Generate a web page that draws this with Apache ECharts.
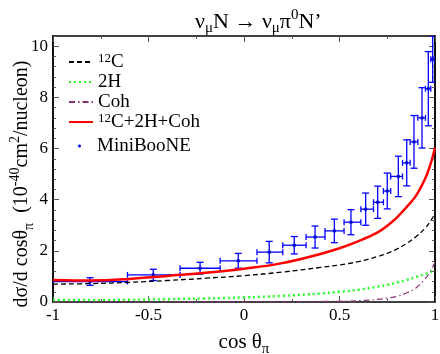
<!DOCTYPE html>
<html><head><meta charset="utf-8">
<script src="https://cdn.jsdelivr.net/npm/echarts@6/dist/echarts.min.js"></script>
<style>html,body{margin:0;padding:0;background:#fff}#c{width:440px;height:354px}</style>
</head><body><div id="c"></div>
<script>
// ---- data ----
const curveX = [-1, -0.8, -0.6, -0.4, -0.2, 0, 0.2, 0.4, 0.5, 0.6, 0.7, 0.75, 0.8, 0.85, 0.9, 0.95, 0.975, 1.0];
const c12   = [0.70, 0.72, 0.77, 0.84, 0.93, 1.03, 1.17, 1.35, 1.45, 1.58, 1.78, 1.90, 2.07, 2.28, 2.55, 2.90, 3.15, 3.45];
const h2    = [0.08, 0.08, 0.09, 0.11, 0.14, 0.18, 0.24, 0.33, 0.40, 0.48, 0.60, 0.67, 0.76, 0.86, 0.98, 1.10, 1.17, 1.25];
const coh   = [0.00, 0.00, 0.00, 0.00, 0.01, 0.01, 0.01, 0.02, 0.03, 0.05, 0.10, 0.15, 0.22, 0.35, 0.55, 0.92, 1.18, 1.55];
const total = [0.86, 0.84, 0.90, 1.02, 1.14, 1.30, 1.52, 1.88, 2.10, 2.38, 2.72, 2.98, 3.30, 3.70, 4.15, 4.85, 5.35, 6.03];

const mbX   = [-0.806, -0.475, -0.23, -0.03, 0.132, 0.263, 0.372, 0.473, 0.56, 0.637, 0.70, 0.75, 0.808, 0.852, 0.89, 0.932, 0.965, 0.988];
const mbLo  = [-1.0, -0.61, -0.335, -0.125, 0.068, 0.203, 0.325, 0.424, 0.524, 0.612, 0.678, 0.73, 0.768, 0.83, 0.87, 0.91, 0.95, 0.978];
const mbHi  = [-0.61, -0.335, -0.125, 0.068, 0.203, 0.325, 0.424, 0.524, 0.612, 0.678, 0.73, 0.768, 0.83, 0.87, 0.91, 0.95, 0.978, 1.0];
const mbY   = [0.80, 1.06, 1.32, 1.61, 1.95, 2.22, 2.54, 2.78, 3.12, 3.63, 3.90, 4.34, 4.91, 5.44, 6.26, 7.20, 8.34, 9.49];
const mbErr = [0.15, 0.22, 0.23, 0.29, 0.42, 0.34, 0.43, 0.46, 0.49, 0.63, 0.63, 0.70, 0.79, 0.90, 1.03, 1.18, 1.45, 0.90];

const xMin = -1, xMax = 1, xStep = 0.5;
const yMin = 0, yMax = 10.4, yStep = 2, yMinorStep = 0.4;

// ---- chart ----
const SERIF = "'Liberation Serif','Times New Roman',serif";
const zip = (xs, ys) => xs.map((x, i) => [x, ys[i]]);
const mbData = mbX.map((x, i) => [x, mbY[i], mbLo[i], mbHi[i], mbErr[i]]);

const frame = {show: true, onZero: false, lineStyle: {color: '#000', width: 1.5}};
const tickStyle = {color: '#555', width: 1};
const subSup = (fs) => ({
  sub: {fontFamily: SERIF, fontSize: fs, verticalAlign: 'bottom', lineHeight: fs},
  sup: {fontFamily: SERIF, fontSize: fs, verticalAlign: 'top', lineHeight: fs}
});

function xAx(pos, labels) {
  return {type: 'value', position: pos, min: xMin, max: xMax, interval: xStep,
    axisLine: frame, splitLine: {show: false},
    axisTick: {show: true, inside: true, length: 6, lineStyle: tickStyle},
    minorTick: {show: true, splitNumber: 2, length: 3, lineStyle: tickStyle},
    axisLabel: {show: labels, fontFamily: SERIF, fontSize: 17, color: '#000', margin: 5},
    name: labels ? 'cos θ{sub|π}' : '', nameLocation: 'middle', nameGap: 17,
    nameTextStyle: {fontFamily: SERIF, fontSize: 21, color: '#000', lineHeight: 28, rich: subSup(15)}
  };
}
function yAx(pos, major, labels) {
  return {type: 'value', position: pos, min: yMin, max: yMax, interval: major ? yStep : yMinorStep,
    axisLine: frame, splitLine: {show: false},
    axisTick: {show: true, inside: true, length: major ? 6 : 3, lineStyle: tickStyle},
    axisLabel: {show: labels, fontFamily: SERIF, fontSize: 17, color: '#000', margin: 5, showMaxLabel: false}
  };
}

const legendFmt = n => n.replace(/12C/g, '{sup|12}C');

const option = {
  animation: false,
  backgroundColor: '#fff',
  title: {
    text: 'ν{sub|μ}N → ν{sub|μ}π{sup|0}N’',
    left: 195, top: 8, padding: 0,
    textStyle: {fontFamily: SERIF, fontSize: 22, fontWeight: 'normal', color: '#000', lineHeight: 28, rich: subSup(15)}
  },
  graphic: [{
    type: 'text', x: 22, y: 184, rotation: Math.PI / 2,
    style: {text: 'dσ/d cosθ{sub|π}  (10{sup|-40}cm{sup|2}/nucleon)', fontFamily: SERIF, fontSize: 20,
      fill: '#000', align: 'center', verticalAlign: 'middle', lineHeight: 28, rich: subSup(14)}
  }],
  grid: {left: 53, right: 5, top: 36, bottom: 52, outerBoundsMode: 'none', containLabel: false},
  legend: [
    {orient: 'vertical', left: 68, top: 52, padding: 0, itemGap: 0, itemWidth: 24, itemHeight: 2,
     itemStyle: {opacity: 0},
     data: ['12C', '2H', 'Coh', '12C+2H+Coh'], formatter: legendFmt,
     textStyle: {fontFamily: SERIF, fontSize: 19, color: '#000', lineHeight: 20, rich: subSup(13)}},
    {orient: 'vertical', left: 78, top: 136, padding: 0, itemGap: 0, itemWidth: 3, itemHeight: 3,
     data: [{name: 'MiniBooNE', icon: 'circle'}],
     textStyle: {fontFamily: SERIF, fontSize: 19, color: '#000', lineHeight: 20, padding: [0, 0, 0, 11]}}
  ],
  xAxis: [xAx('bottom', true), xAx('top', false)],
  yAxis: [yAx('left', true, true), yAx('left', false, false), yAx('right', true, false), yAx('right', false, false)],
  series: [
    {name: '12C', type: 'line', data: zip(curveX, c12), smooth: 0.4, symbol: 'none',
     lineStyle: {color: '#000', width: 1.3, type: [5, 3]}, itemStyle: {color: '#000'}},
    {name: '2H', type: 'line', data: zip(curveX, h2), smooth: 0.4, symbol: 'none',
     lineStyle: {color: '#22ff22', width: 2.4, type: [2, 3]}, itemStyle: {color: '#22ff22'}},
    {name: 'Coh', type: 'line', data: zip(curveX, coh), smooth: 0.4, symbol: 'none',
     lineStyle: {color: '#8a3278', width: 1.2, type: [6, 3, 1.5, 3]}, itemStyle: {color: '#8a3278'}},
    {name: '12C+2H+Coh', type: 'line', data: zip(curveX, total), smooth: 0.4, symbol: 'none',
     lineStyle: {color: '#ff0000', width: 2.5}, itemStyle: {color: '#ff0000'}},
    {name: 'MiniBooNE', type: 'custom', data: mbData, clip: true, itemStyle: {color: '#0000ff'},
     encode: {x: 0, y: 1},
     renderItem: function (params, api) {
       const x = api.value(0), y = api.value(1), lo = api.value(2), hi = api.value(3), e = api.value(4);
       const p = api.coord([x, y]), pt = api.coord([x, y + e]), pb = api.coord([x, y - e]);
       const pl = api.coord([lo, y]), pr = api.coord([hi, y]);
       const cw = 3.5, st = {stroke: '#0000ff', lineWidth: 1.3};
       return {type: 'group', children: [
         {type: 'line', shape: {x1: p[0], y1: pt[1], x2: p[0], y2: pb[1]}, style: st},
         {type: 'line', shape: {x1: p[0] - cw, y1: pt[1], x2: p[0] + cw, y2: pt[1]}, style: st},
         {type: 'line', shape: {x1: p[0] - cw, y1: pb[1], x2: p[0] + cw, y2: pb[1]}, style: st},
         {type: 'line', shape: {x1: pl[0], y1: p[1], x2: pr[0], y2: p[1]}, style: st},
         {type: 'line', shape: {x1: pl[0], y1: p[1] - 3, x2: pl[0], y2: p[1] + 3}, style: st},
         {type: 'line', shape: {x1: pr[0], y1: p[1] - 3, x2: pr[0], y2: p[1] + 3}, style: st},
         {type: 'rect', shape: {x: p[0] - 1.5, y: p[1] - 1.5, width: 3, height: 3}, style: {fill: '#0000cc'}}
       ]};
     }}
  ]
};
echarts.init(document.getElementById('c'), null, {renderer: 'canvas'}).setOption(option);
</script></body></html>
